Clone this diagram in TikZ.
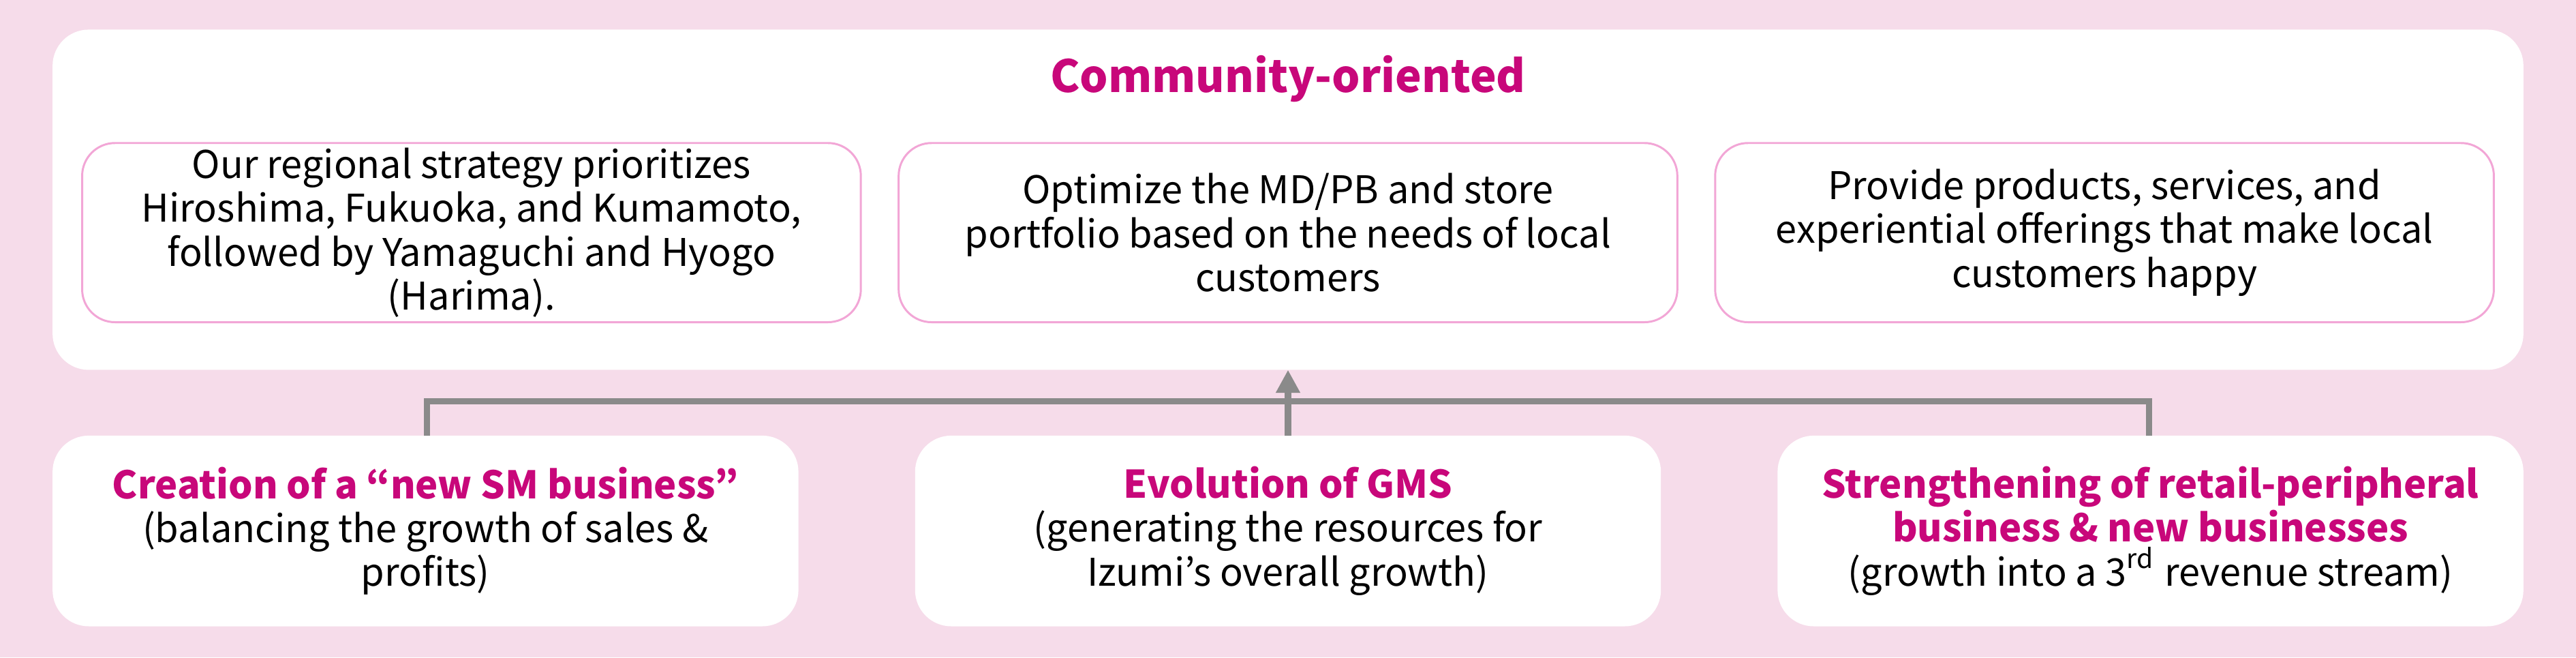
\documentclass[tikz,border=0pt]{standalone}
\usepackage{fontspec}
\setmainfont{Noto Sans CJK JP}
\usetikzlibrary{arrows.meta}
\definecolor{bgpink}{HTML}{F6DCEA}
\definecolor{mag}{HTML}{C8077A}
\definecolor{lpink}{HTML}{F2A6D6}
\definecolor{conn}{HTML}{8A8A8A}
\begin{document}
\begin{tikzpicture}[x=0.1mm,y=-0.1mm,
  wbox/.style={fill=white,rounded corners=2.2mm,draw=none},
  ibox/.style={fill=white,draw=lpink,line width=0.35pt,rounded corners=2mm,inner sep=0pt,outer sep=0pt,minimum width=47.4mm,minimum height=10.9mm,anchor=north west,align=center,font=\fontsize{6.6pt}{7.6pt}\selectfont},
  bbox/.style={fill=white,rounded corners=2.2mm,inner sep=0pt,outer sep=0pt,minimum width=45.4mm,minimum height=11.6mm,anchor=north west,align=center,font=\fontsize{6.6pt}{7.6pt}\selectfont},
  cn/.style={draw=conn,line width=1.1pt}]
\fill[bgpink] (0,0) rectangle (1568,400);
\useasboundingbox (0,0) rectangle (1568,400);
\fill[wbox] (32,18) rectangle (1536,225);
\node[text=mag,font=\fontsize{7.7pt}{9pt}\selectfont\bfseries] (title) at (784,48) {Community-oriented};
\node[ibox] (i1) at (50,87) {\raisebox{0pt}[\height][\depth]{}Our regional strategy prioritizes\\Hiroshima, Fukuoka, and Kumamoto,\\followed by Yamaguchi and Hyogo\\(Harima).};
\node[ibox] (i2) at (547,87) {Optimize the MD/PB and store\\portfolio based on the needs of local\\customers};
\node[ibox] (i3) at (1044,87) {Provide products, services, and\\experiential offerings that make local\\customers happy};
\coordinate (top) at (784,225);
\node[bbox] (b1) at (32,265) {{\color{mag}\bfseries Creation of a “new SM business”}\\(balancing the growth of sales \&\\profits)};
\node[bbox] (b2) at (557,265) {{\color{mag}\bfseries Evolution of GMS}\\(generating the resources for\\Izumi’s overall growth)};
\node[bbox] (b3) at (1082,265) {{\color{mag}\bfseries Strengthening of retail-peripheral}\\{\color{mag}\bfseries business \& new businesses}\\(growth into a 3\textsuperscript{rd} revenue stream)};
\coordinate (j) at (784,244);
\coordinate (t1) at (260,265);
\coordinate (t3) at (1308,265);
\coordinate (t2) at (784,265);
\draw[cn] (t1) |- (j);
\draw[cn] (t3) |- (j);
\draw[cn] (t2) -- (j);
\draw[cn,-{Triangle[length=1.4mm,width=1.4mm]}] (j) -- (top);
\end{tikzpicture}
\end{document}
